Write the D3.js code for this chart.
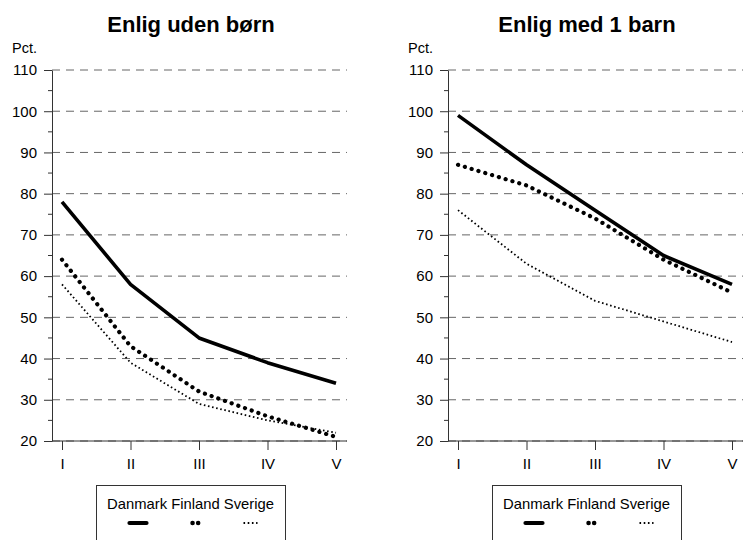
<!DOCTYPE html>
<html><head><meta charset="utf-8">
<script src="https://cdn.jsdelivr.net/npm/d3@7"></script>
<style>body{margin:0;background:#fff}svg{display:block}text{font-family:"Liberation Sans",Arial,Helvetica,sans-serif}</style>
</head><body>
<script>
const categories = ["I","II","III","IV","V"];
const yTicks = [20,30,40,50,60,70,80,90,100,110];
const seriesNames = ["Danmark","Finland","Sverige"];
const titles = ["Enlig uden børn","Enlig med 1 barn"];
const panel1Danmark = [78,58,45,39,34];
const panel1Finland = [64,43,32,26,21];
const panel1Sverige = [58,39,29,25,22];
const panel2Danmark = [99,87,76,65,58];
const panel2Finland = [87,82,74,64,56];
const panel2Sverige = [76,63,54,49,44];

const panels = [
  {title: titles[0], series: [panel1Danmark, panel1Finland, panel1Sverige]},
  {title: titles[1], series: [panel2Danmark, panel2Finland, panel2Sverige]}
];
const styles = [
  {w:3.6, dash:null, cap:"butt"},
  {w:4.2, dash:"0.1 7", cap:"round"},
  {w:1.8, dash:"1.6 2.6", cap:"butt"}
];

const svg = d3.select("body").append("svg").attr("width",743).attr("height",540);

panels.forEach((p,i)=>{
  const ox = i*396;
  const g = svg.append("g").attr("transform",`translate(${ox},0)`);
  const axX = 52, plotR = 347;
  const y = d3.scaleLinear().domain([20,110]).range([441,70]);
  const x = d3.scalePoint().domain(categories).range([62,336]);

  g.append("text").attr("x",191).attr("y",32).attr("text-anchor","middle")
    .attr("font-size",22).attr("font-weight","bold").text(p.title);
  g.append("text").attr("x",12).attr("y",53).attr("font-size",14.5).text("Pct.");

  // grid
  g.append("g").selectAll("line").data(yTicks).join("line")
    .attr("x1",axX).attr("x2",plotR).attr("y1",d=>y(d)).attr("y2",d=>y(d))
    .attr("stroke","#666").attr("stroke-width",1).attr("stroke-dasharray","8 6");

  // minor ticks
  const minor = d3.range(25,110,10);
  g.append("g").selectAll("line").data(minor).join("line")
    .attr("x1",axX-4).attr("x2",axX).attr("y1",d=>y(d)).attr("y2",d=>y(d))
    .attr("stroke","#333");

  const ya = g.append("g").attr("transform",`translate(${axX},0)`)
    .call(d3.axisLeft(y).tickValues(yTicks).tickSize(8).tickPadding(7).tickSizeOuter(0));
  ya.select(".domain").attr("stroke","#333");
  ya.selectAll(".tick line").attr("stroke","#333");
  ya.selectAll("text").attr("font-size",15).attr("fill","#000").attr("font-family",null);

  const xa = g.append("g").attr("transform",`translate(0,${y(20)})`)
    .call(d3.axisBottom(x).tickSize(9).tickPadding(8).tickSizeOuter(0));
  xa.select(".domain").attr("d",`M${axX},0H${plotR}`).attr("stroke","#333");
  xa.selectAll(".tick line").attr("stroke","#333");
  xa.selectAll("text").attr("font-size",15).attr("fill","#000").attr("font-family",null);

  const line = d3.line().x((d,j)=>x(categories[j])).y(d=>y(d));
  p.series.forEach((s,k)=>{
    const st = styles[k];
    g.append("path").datum(s).attr("d",line).attr("fill","none")
      .attr("stroke","#000").attr("stroke-width",st.w)
      .attr("stroke-dasharray",st.dash).attr("stroke-linecap",st.cap)
      .attr("stroke-linejoin","round");
  });

  // legend
  const lg = g.append("g");
  lg.append("rect").attr("x",96.5).attr("y",485.5).attr("width",189).attr("height",70)
    .attr("fill","none").attr("stroke","#333");
  lg.append("text").attr("x",190.5).attr("y",509).attr("text-anchor","middle")
    .attr("font-size",14.8).text(seriesNames.join(" "));
  const cx = [138,195.5,250.5];
  const legStyles = [
    {half:8.5, w:4.2, dash:null, cap:"round"},
    {half:3, w:4.5, dash:"0.1 5.5", cap:"round"},
    {half:7, w:1.8, dash:"1.6 2.6", cap:"butt"}
  ];
  seriesNames.forEach((n,k)=>{
    const st = legStyles[k];
    lg.append("line").attr("x1",cx[k]-st.half).attr("x2",cx[k]+st.half)
      .attr("y1",523).attr("y2",523).attr("stroke","#000").attr("stroke-width",st.w)
      .attr("stroke-dasharray",st.dash).attr("stroke-linecap",st.cap);
  });
});
</script>
</body></html>
